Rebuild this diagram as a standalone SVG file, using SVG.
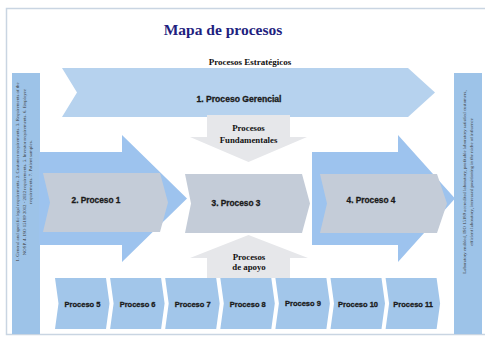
<svg xmlns="http://www.w3.org/2000/svg" width="485" height="343" viewBox="0 0 485 343">
<style>
.side{fill:#9dc3e8}
.big{fill:#9dc3ee}
.top{fill:#b6d2ee}
.chev{fill:#c4ccd8}
.low{fill:#a2c6ea}
.grey{fill:#e6e7ea}
.sidetxt{font-family:"Liberation Serif",serif;font-size:4.8px;fill:#3a3a3a;text-anchor:middle}
.hd{font-family:"Liberation Serif",serif;font-weight:bold;fill:#111;text-anchor:middle}
.pt{font-family:"Liberation Sans",Arial,sans-serif;font-weight:bold;fill:#1a1a1a;stroke:#1a1a1a;stroke-width:0.3;text-anchor:middle}
</style>
<rect x="0" y="0" width="485" height="343" fill="#ffffff"/>
<rect x="6.5" y="8.5" width="485" height="326" fill="#ffffff" stroke="#c9d5e2" stroke-width="1.5"/>
<text x="223" y="35" font-family="Liberation Serif, serif" font-weight="bold" font-size="15.5" fill="#1f1f80" text-anchor="middle">Mapa de procesos</text>
<text class="hd" x="250" y="65" font-size="9">Procesos Estratégicos</text>

<g id="input-panel">
<rect class="side" x="12" y="73" width="28" height="261"/>
<g transform="translate(0,172) rotate(-90)" class="sidetxt">
<text x="0" y="19">1. General and specific legal requirements. 2. Customer requirements. 3. Requirements of the</text>
<text x="0" y="25.5">NOSP. 4. ISO 15189 2012 - 2022  requirements. 5. Investor requirements. 6. Employee</text>
<text x="0" y="32">requirements. 7. Patient samples.</text>
</g>
</g>

<g id="output-panel">
<rect class="side" x="454" y="73" width="28" height="261"/>
<g transform="translate(0,182) rotate(-90)" class="sidetxt">
<text x="0" y="466">Laboratory enabled, ISO 15189 accredited laboratory, profitable laboratory satisfied customers,</text>
<text x="0" y="472.5">efficient laboratory, increased positioning  in the niche of influence</text>
</g>
</g>

<g id="proceso-gerencial">
<polygon class="top" points="62,68 408,68 435,92.5 408,117 62,117 77,92.5"/>
<text class="pt" x="239" y="102" font-size="8.6">1. Proceso Gerencial</text>
</g>

<g id="connectors">
<polygon class="big" points="39,152 122,152 122,135 187,198.5 122,262 122,245 39,245"/>
<polygon class="big" points="312,152 398,152 398,135 455,198.5 398,262 398,245 312,245"/>
</g>

<g id="procesos-fundamentales">
<polygon class="grey" points="207,115 290,115 290,137 307,137 248.5,162 190,137 207,137"/>
<text class="hd" x="248.5" y="131" font-size="8.8">Procesos</text>
<text class="hd" x="248.5" y="143" font-size="8.8">Fundamentales</text>
</g>

<g id="proceso-1">
<polygon class="chev" points="43,173 160,173 168,202.5 160,232 43,232 50,202.5"/>
<text class="pt" x="96" y="203" font-size="8.3">2. Proceso 1</text>
</g>
<g id="proceso-3">
<polygon class="chev" points="185,174 302,174 310,203.5 302,233 185,233 191,203.5"/>
<text class="pt" x="236" y="206" font-size="8.3">3. Proceso 3</text>
</g>
<g id="proceso-4">
<polygon class="chev" points="320,174 437,174 447,203.5 437,233 320,233 327,203.5"/>
<text class="pt" x="371" y="203" font-size="8.3">4. Proceso 4</text>
</g>

<g id="procesos-apoyo">
<polygon class="grey" points="248.5,235 308,258 290,258 290,278 207,278 207,258 190,258"/>
<text class="hd" x="249" y="259.5" font-size="8.8">Procesos</text>
<text class="hd" x="249" y="270" font-size="8.8">de apoyo</text>
</g>

<g id="proceso-5"><polygon class="low" points="55,278 106,278 109.5,303.5 106,329 55,329 58.5,303.5"/><text class="pt" x="82.5" y="307" font-size="7.5">Proceso 5</text></g>
<g id="proceso-6"><polygon class="low" points="110.1,278 161.1,278 164.6,303.5 161.1,329 110.1,329 113.6,303.5"/><text class="pt" x="137.6" y="307" font-size="7.5">Proceso 6</text></g>
<g id="proceso-7"><polygon class="low" points="165.2,278 216.2,278 219.7,303.5 216.2,329 165.2,329 168.7,303.5"/><text class="pt" x="192.7" y="307" font-size="7.5">Proceso 7</text></g>
<g id="proceso-8"><polygon class="low" points="220.3,278 271.3,278 274.8,303.5 271.3,329 220.3,329 223.8,303.5"/><text class="pt" x="247.8" y="307" font-size="7.5">Proceso 8</text></g>
<g id="proceso-9"><polygon class="low" points="275.4,278 326.4,278 329.9,303.5 326.4,329 275.4,329 278.9,303.5"/><text class="pt" x="302.9" y="306" font-size="7.5">Proceso 9</text></g>
<g id="proceso-10"><polygon class="low" points="330.5,278 381.5,278 385,303.5 381.5,329 330.5,329 334,303.5"/><text class="pt" x="358" y="307" font-size="7.5">Proceso 10</text></g>
<g id="proceso-11"><polygon class="low" points="385.6,278 436.6,278 440.1,303.5 436.6,329 385.6,329 389.1,303.5"/><text class="pt" x="413.1" y="307" font-size="7.5">Proceso 11</text></g>
</svg>
